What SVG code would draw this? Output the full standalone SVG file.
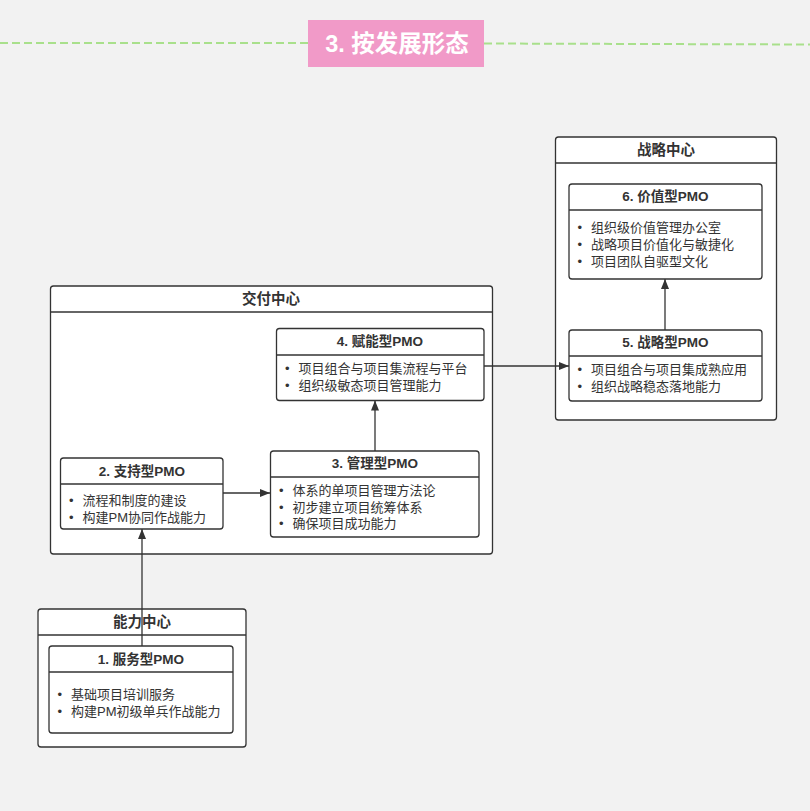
<svg xmlns="http://www.w3.org/2000/svg" width="810" height="811" viewBox="0 0 810 811">
<defs>
<style>
.bg{fill:#f2f2f2}
.box{fill:#ffffff;stroke:#333333;stroke-width:1.3}
.sep{stroke:#333333;stroke-width:1.3}
.hd{font-family:"Liberation Sans","Noto Sans CJK SC",sans-serif;font-size:13.5px;font-weight:bold;fill:#333333;text-anchor:middle;dominant-baseline:central}
.ch{font-size:14.5px}
.li{font-family:"Liberation Sans","Noto Sans CJK SC",sans-serif;font-size:13px;fill:#333333;dominant-baseline:central}
.dash{stroke:#a9e08c;stroke-width:2;stroke-dasharray:8 4;fill:none}
.edge{stroke:#333333;stroke-width:1.3;fill:none;marker-end:url(#arr)}
</style>
<marker id="arr" viewBox="0 0 10 10" refX="10" refY="5" markerWidth="10" markerHeight="10" markerUnits="userSpaceOnUse" orient="auto">
<path d="M0,1 L10,5 L0,9 z" fill="#333333"/>
</marker>
</defs>
<rect class="bg" x="0" y="0" width="810" height="811"/>
<g id="title">
<line class="dash" x1="0" y1="43" x2="308" y2="43"/>
<line class="dash" x1="484" y1="43.5" x2="810" y2="44.5"/>
<rect x="308" y="20" width="176" height="47" fill="#f19ac8"/>
<text x="397" y="44" font-family="'Liberation Sans','Noto Sans CJK SC',sans-serif" font-size="23.5" font-weight="bold" fill="#ffffff" text-anchor="middle" dominant-baseline="central">3. 按发展形态</text>
</g>
<g id="strategy-center">
<rect class="box" x="555.5" y="137" width="221" height="283" rx="3"/>
<line class="sep" x1="555.5" y1="163" x2="776.5" y2="163"/>
<text class="hd ch" x="666" y="150">战略中心</text>
</g>
<g id="delivery-center">
<rect class="box" x="50.5" y="286" width="442" height="268" rx="3"/>
<line class="sep" x1="50.5" y1="312" x2="492.5" y2="312"/>
<text class="hd ch" x="271" y="299">交付中心</text>
</g>
<g id="capability-center">
<rect class="box" x="38" y="609" width="208" height="138" rx="3"/>
<line class="sep" x1="38" y1="635" x2="246" y2="635"/>
<text class="hd ch" x="142" y="622">能力中心</text>
</g>
<g id="connectors">
<line class="edge" x1="142" y1="646" x2="142" y2="529"/>
<line class="edge" x1="223" y1="493" x2="270" y2="493"/>
<line class="edge" x1="375" y1="451" x2="375" y2="400.5"/>
<line class="edge" x1="484" y1="366" x2="569" y2="366"/>
<line class="edge" x1="665" y1="330" x2="665" y2="279"/>
</g>
<g id="node6">
<rect class="box" x="569" y="184" width="193" height="95" rx="3"/>
<line class="sep" x1="569" y1="210" x2="762" y2="210"/>
<text class="hd" x="665.5" y="196.5">6. 价值型PMO</text>
<text class="li" y="227"><tspan x="577.5">•</tspan><tspan x="591">组织级价值管理办公室</tspan></text>
<text class="li" y="244"><tspan x="577.5">•</tspan><tspan x="591">战略项目价值化与敏捷化</tspan></text>
<text class="li" y="261"><tspan x="577.5">•</tspan><tspan x="591">项目团队自驱型文化</tspan></text>
</g>
<g id="node5">
<rect class="box" x="569" y="330" width="193" height="71" rx="3"/>
<line class="sep" x1="569" y1="356" x2="762" y2="356"/>
<text class="hd" x="665.5" y="342.5">5. 战略型PMO</text>
<text class="li" y="369"><tspan x="577.5">•</tspan><tspan x="591">项目组合与项目集成熟应用</tspan></text>
<text class="li" y="386"><tspan x="577.5">•</tspan><tspan x="591">组织战略稳态落地能力</tspan></text>
</g>
<g id="node4">
<rect class="box" x="276.5" y="328.5" width="207.5" height="72" rx="3"/>
<line class="sep" x1="276.5" y1="355" x2="484" y2="355"/>
<text class="hd" x="380" y="341.5">4. 赋能型PMO</text>
<text class="li" y="368"><tspan x="285">•</tspan><tspan x="298.5">项目组合与项目集流程与平台</tspan></text>
<text class="li" y="385"><tspan x="285">•</tspan><tspan x="298.5">组织级敏态项目管理能力</tspan></text>
</g>
<g id="node3">
<rect class="box" x="270.5" y="451" width="208.5" height="86" rx="3"/>
<line class="sep" x1="270.5" y1="477" x2="479" y2="477"/>
<text class="hd" x="375" y="463.5">3. 管理型PMO</text>
<text class="li" y="490"><tspan x="279">•</tspan><tspan x="292.5">体系的单项目管理方法论</tspan></text>
<text class="li" y="506.5"><tspan x="279">•</tspan><tspan x="292.5">初步建立项目统筹体系</tspan></text>
<text class="li" y="523"><tspan x="279">•</tspan><tspan x="292.5">确保项目成功能力</tspan></text>
</g>
<g id="node2">
<rect class="box" x="60.5" y="458" width="162.5" height="71" rx="3"/>
<line class="sep" x1="60.5" y1="484" x2="223" y2="484"/>
<text class="hd" x="142" y="471">2. 支持型PMO</text>
<text class="li" y="499.5"><tspan x="69">•</tspan><tspan x="82.5">流程和制度的建设</tspan></text>
<text class="li" y="516.5"><tspan x="69">•</tspan><tspan x="82.5">构建PM协同作战能力</tspan></text>
</g>
<g id="node1">
<rect class="box" x="49" y="646" width="184" height="87" rx="3"/>
<line class="sep" x1="49" y1="672" x2="233" y2="672"/>
<text class="hd" x="141" y="659">1. 服务型PMO</text>
<text class="li" y="694"><tspan x="57.5">•</tspan><tspan x="71">基础项目培训服务</tspan></text>
<text class="li" y="711"><tspan x="57.5">•</tspan><tspan x="71">构建PM初级单兵作战能力</tspan></text>
</g>
</svg>
